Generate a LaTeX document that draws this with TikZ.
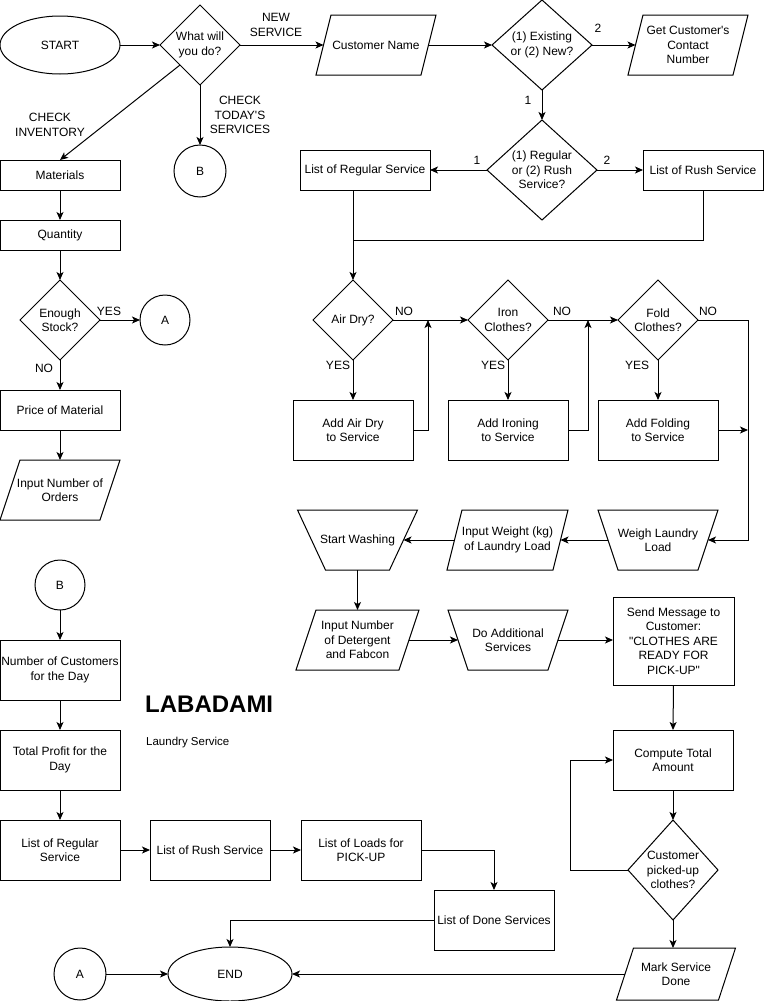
\documentclass[tikz,border=0pt]{standalone}
\usepackage{fontspec}
\setmainfont{Liberation Sans}
\usetikzlibrary{shapes.geometric,arrows.meta}
\newcommand{\iooutline}[2]{\draw[ln] ([xshift=#2]#1.north west) -- ([xshift=#2]#1.north east) -- ([xshift=-#2]#1.south east) -- ([xshift=-#2]#1.south west) -- cycle;}
\newcommand{\mooutline}[2]{\draw[ln] ([xshift=-#2]#1.north west) -- ([xshift=#2]#1.north east) -- ([xshift=-#2]#1.south east) -- ([xshift=#2]#1.south west) -- cycle;}
\tikzset{
  base/.style={font=\fontsize{12}{14.4}\selectfont, align=center, line width=1pt, inner sep=0pt, outer sep=0pt},
  box/.style={base, draw, rectangle},
  term/.style={base, draw, ellipse},
  conn/.style={base, draw, circle},
  dec/.style={base, draw, diamond},
  io/.style={base, rectangle},
  manual/.style={base, rectangle},
  ln/.style={line width=1pt},
  arr/.style={line width=1pt, -{Stealth[length=8pt,width=7pt,inset=2pt]}},
  lab/.style={font=\fontsize{12}{14.4}\selectfont, align=center, inner sep=0pt},
}
\begin{document}
\begin{tikzpicture}[x=1pt,y=-1pt]
\useasboundingbox (0,0) rectangle (764,1001);

% ---- top row
\node[term, minimum width=120pt, minimum height=58pt] (start) at (60,45) {START};
\node[dec, minimum width=80pt, minimum height=80pt, label={[lab]center:What will\\you do?}] (what) at (200,45) {};
\node[io, minimum width=105pt, minimum height=60pt] (custname) at (376,45) {Customer Name};
\iooutline{custname}{7.5pt}
\node[dec, minimum width=100pt, minimum height=90pt, label={[lab]center:(1) Existing\\or (2) New?}] (exist) at (542,45) {};
\node[io, minimum width=105pt, minimum height=60pt] (getcontact) at (688,45) {Get Customer\textquotesingle s\\Contact\\Number};
\iooutline{getcontact}{7.5pt}

\node[lab] (lnew) at (276,25) {NEW\\SERVICE};
\node[lab] (l2a) at (598,28) {2};
\node[lab] (l1a) at (528,100) {1};
\node[lab] (lcheckinv) at (50,125) {CHECK\\INVENTORY};
\node[lab] (lchecktoday) at (240,115) {CHECK\\TODAY\textquotesingle S\\SERVICES};

\node[conn, minimum size=52pt] (b1) at (200,171) {B};

% ---- service type
\node[dec, minimum width=110pt, minimum height=100pt, label={[lab]center:(1) Regular\\or (2) Rush\\Service?}] (regrush) at (542,170) {};
\node[box, minimum width=130pt, minimum height=40pt] (listreg) at (365,170) {List of Regular Service};
\node[box, minimum width=120pt, minimum height=40pt] (listrush) at (703,170) {List of Rush Service};
\node[lab] (l1b) at (477,160) {1};
\node[lab] (l2b) at (607,160) {2};
\coordinate (merge) at (353,240);

% ---- add-ons
\node[dec, minimum width=80pt, minimum height=80pt, label={[lab]center:Air Dry?}] (airdry) at (353,320) {};
\node[dec, minimum width=80pt, minimum height=80pt, label={[lab]center:Iron\\Clothes?}] (iron) at (508,320) {};
\node[dec, minimum width=80pt, minimum height=80pt, label={[lab]center:Fold\\Clothes?}] (fold) at (658,320) {};
\node[box, minimum width=120pt, minimum height=60pt] (addair) at (353,430) {Add Air Dry\\to Service};
\node[box, minimum width=120pt, minimum height=60pt] (addiron) at (508,430) {Add Ironing\\to Service};
\node[box, minimum width=120pt, minimum height=60pt] (addfold) at (658,430) {Add Folding\\to Service};
\node[lab] (lno1) at (404,311) {NO};
\node[lab] (lno2) at (562,311) {NO};
\node[lab] (lno3) at (708,311) {NO};
\node[lab] (lyes1) at (338,365) {YES};
\node[lab] (lyes2) at (493,365) {YES};
\node[lab] (lyes3) at (637,365) {YES};
\coordinate (j1) at (428,320);
\coordinate (j2) at (588,320);
\coordinate (j3) at (748,430);
\coordinate (rail) at (748,320);

% ---- washing
\node[manual, minimum width=100pt, minimum height=60pt] (weigh) at (658,540) {Weigh Laundry\\Load};
\mooutline{weigh}{10pt}
\node[io, minimum width=106pt, minimum height=60pt] (inweight) at (507.5,540) {Input Weight (kg)\\of Laundry Load};
\iooutline{inweight}{7.5pt}
\node[manual, minimum width=92pt, minimum height=60pt] (startwash) at (357.5,540) {Start Washing};
\mooutline{startwash}{14pt}
\node[io, minimum width=103pt, minimum height=60pt] (indet) at (357.5,640) {Input Number\\of Detergent\\and Fabcon};
\iooutline{indet}{10pt}
\node[manual, minimum width=100pt, minimum height=60pt] (doadd) at (508,640) {Do Additional\\Services};
\mooutline{doadd}{10pt}
\node[box, minimum width=121pt, minimum height=88pt] (sendmsg) at (673.5,641) {Send Message to\\Customer:\\\textquotedbl CLOTHES ARE\\READY FOR\\PICK-UP\textquotedbl};
\node[box, minimum width=120pt, minimum height=60pt] (compute) at (673,760) {Compute Total\\Amount};
\node[dec, minimum width=90pt, minimum height=100pt, label={[lab]center:Customer\\picked-up\\clothes?}] (picked) at (673,870) {};
\coordinate (loop) at (570,870);
\node[io, minimum width=102pt, minimum height=52pt] (markdone) at (676,974) {Mark Service\\Done};
\iooutline{markdone}{8.5pt}

% ---- bottom
\node[term, minimum width=124pt, minimum height=54pt] (endn) at (230,974) {END};
\node[conn, minimum size=52pt] (a2) at (80,974) {A};
\node[box, minimum width=120pt, minimum height=60pt] (donesvc) at (494,920) {List of Done Services};
\node[box, minimum width=120pt, minimum height=60pt] (loads) at (361,850) {List of Loads for\\PICK-UP};
\node[box, minimum width=120pt, minimum height=60pt] (rush2) at (210,850) {List of Rush Service};
\node[box, minimum width=120pt, minimum height=60pt] (reg2) at (60,850) {List of Regular\\Service};

% ---- left column
\node[box, minimum width=120pt, minimum height=30pt] (materials) at (60,175) {Materials};
\node[box, minimum width=120pt, minimum height=30pt] (quantity) at (60,235) {Quantity};
\node[dec, minimum width=80pt, minimum height=80pt, label={[lab]center:Enough\\Stock?}] (enough) at (60,320) {};
\node[conn, minimum size=50pt] (a1) at (165,320) {A};
\node[lab] (lyes4) at (109,311) {YES};
\node[lab] (lno4) at (44,368) {NO};
\node[box, minimum width=120pt, minimum height=40pt] (price) at (60,410) {Price of Material};
\node[io, minimum width=100pt, minimum height=60pt] (inorders) at (60,490) {Input Number of\\Orders};
\iooutline{inorders}{10pt}

\node[conn, minimum size=50pt] (b2) at (60,585) {B};
\node[box, minimum width=120pt, minimum height=60pt] (numcust) at (60,670) {Number of Customers\\for the Day};
\node[box, minimum width=120pt, minimum height=60pt] (totprofit) at (60,760) {Total Profit for the\\Day};

\node[anchor=west, inner sep=0pt, font=\fontsize{24}{28}\selectfont\bfseries] (title) at (145,704) {LABADAMI};
\node[anchor=west, inner sep=0pt, font=\fontsize{11.5}{14}\selectfont] (subtitle) at (146,743) {Laundry Service};

% ---- connectors
\draw[arr] (start) -- (what);
\draw[arr] (what) -- (custname);
\draw[arr] (what.south) -- (b1.north);
\draw[arr] (what.south west) -- (materials.north);
\draw[arr] (custname) -- (exist);
\draw[arr] (exist) -- (getcontact);
\draw[arr] (exist.south) -- (regrush.north);
\draw[arr] (regrush) -- (listreg);
\draw[arr] (regrush) -- (listrush);
\draw[ln] (listrush.south) |- (merge);
\draw[arr] (airdry |- listreg.south) -- (airdry.north);
\draw[arr] (airdry) -- (iron);
\draw[arr] (iron) -- (fold);
\draw[arr] (fold.east) -- (rail) |- (weigh);
\draw[arr] (airdry.south) -- (addair.north);
\draw[arr] (iron.south) -- (addiron.north);
\draw[arr] (fold.south) -- (addfold.north);
\draw[arr] (addair.east) -| (j1);
\draw[arr] (addiron.east) -| (j2);
\draw[arr] (addfold.east) -- (j3);
\draw[arr] (weigh) -- (inweight);
\draw[arr] (inweight) -- (startwash);
\draw[arr] (startwash.south) -- (indet.north);
\draw[arr] (indet) -- (doadd);
\draw[arr] (doadd) -- (doadd -| sendmsg.west);
\draw[arr] (sendmsg.south) -- (compute.north);
\draw[arr] (compute) -- (picked);
\draw[arr] (picked.west) -- (loop) |- (compute.west);
\draw[arr] (picked.south) -- (picked.south |- markdone.north);
\draw[arr] (markdone) -- (endn);
\draw[arr] (a2) -- (endn);
\draw[arr] (donesvc.west) -| (endn.north);
\draw[arr] (loads.east) -| (donesvc.north);
\draw[arr] (rush2) -- (loads);
\draw[arr] (reg2) -- (rush2);
\draw[arr] (b2) -- (numcust);
\draw[arr] (numcust) -- (totprofit);
\draw[arr] (totprofit) -- (reg2);
\draw[arr] (materials) -- (quantity);
\draw[arr] (quantity) -- (enough);
\draw[arr] (enough) -- (a1);
\draw[arr] (enough) -- (price);
\draw[arr] (price) -- (inorders);
\end{tikzpicture}
\end{document}
